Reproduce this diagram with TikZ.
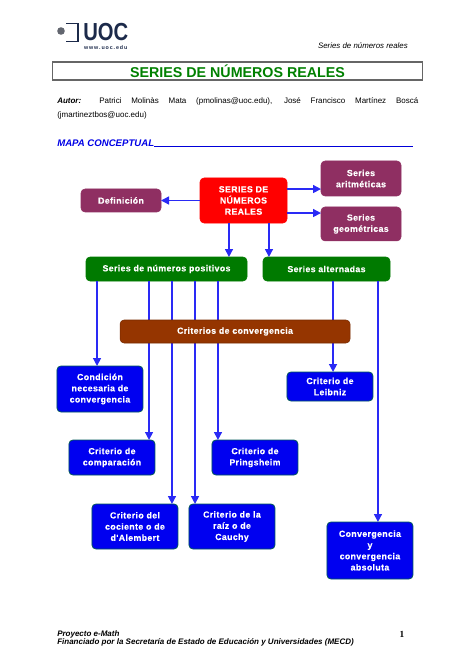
\documentclass[tikz,border=0pt]{standalone}
\usepackage{fontspec}
\setmainfont{Liberation Sans}
\newfontfamily\serifnum{Liberation Serif}
\newfontfamily\boxfont[LetterSpace=4,FakeBold=0.3]{Liberation Sans Bold}
\usepackage{xcolor}
\usepackage{tikz}
\usetikzlibrary{arrows.meta,positioning}
\definecolor{plumbox}{HTML}{8F2F62}
\definecolor{greenbox}{HTML}{007A00}
\definecolor{brownbox}{HTML}{953500}
\definecolor{bluebox}{HTML}{0000F0}
\definecolor{linkblue}{HTML}{2A2AF5}
\definecolor{navylogo}{HTML}{1C2A4A}

\begin{document}
\begin{tikzpicture}[
    x=0.75pt, y=-0.75pt,
    box/.style={rounded corners=3pt, align=center, inner sep=0pt, outer sep=0pt, text=white, font=\boxfont\fontsize{6.6pt}{8.4pt}\selectfont, minimum width=64.5pt},
    mainbox/.style={box, fill=red, draw=red, minimum width=65.25pt, minimum height=33.75pt},
    plumnode/.style={box, fill=plumbox, draw=plumbox, minimum width=60pt},
    seriesbox/.style={box, fill=greenbox, draw=greenbox, minimum height=18pt},
    critbox/.style={box, fill=bluebox, draw=teal!70!black, line width=0.6pt},
    arrow/.style={-{Triangle[length=6pt,width=6pt]}, line width=1.1pt, draw=linkblue}
]
\useasboundingbox (0,0) rectangle (474,670);

% page header
\draw[navylogo, line width=1.2pt] (66,23.5) -- (78,23.5) -- (78,41.5) -- (66,41.5);
\fill[gray!70!navylogo] (61,31) circle (3.8);
\node[anchor=west, inner sep=0pt, text=navylogo, font=\bfseries\fontsize{18.5pt}{18.5pt}\selectfont] (logo) at (83,32) {\scalebox{0.82}[1]{UOC}};
\node[below=3pt of logo, inner sep=0pt, text=navylogo, font=\bfseries\fontsize{4pt}{4pt}\selectfont] (web) {w\,w\,w\,.\,u\,o\,c\,.\,e\,d\,u};
\node[anchor=east, inner sep=0pt, font=\itshape\fontsize{5.9pt}{8pt}\selectfont] (header) at (408,46) {Series de números reales};

\node[draw=gray!80!black, line width=0.9pt, minimum width=278pt, minimum height=13.5pt, inner sep=0pt, text=green!50!black, font=\bfseries\fontsize{10.7pt}{12pt}\selectfont] (title) at (237.5,71) {SERIES DE NÚMEROS REALES};

\node[anchor=north west, inner sep=0pt, text width=270.75pt, align=justify, font=\fontsize{6pt}{10.5pt}\selectfont] (author) at (57,97) {\textbf{\textit{Autor:}} Patrici Molinàs Mata (pmolinas@uoc.edu), José Francisco Martínez Boscá \mbox{(jmartineztbos@uoc.edu)}};

\node[anchor=west, inner sep=0pt, text=blue!90!black, font=\bfseries\itshape\fontsize{7.2pt}{9pt}\selectfont] (mapa) at (57,143) {MAPA CONCEPTUAL};
\draw[blue!85!black, line width=0.8pt] (mapa.south east) -- ++(259,0) coordinate (mapaend);

% diagram
\node[mainbox] (series) at (243.5,200.5) {SERIES DE\\NÚMEROS\\REALES};
\node[plumnode, left=29.25pt of series, minimum height=17.25pt] (definicion) {Definición};
\node[plumnode, right=25.5pt of series.east, yshift=16.5pt, minimum height=26.25pt] (aritmeticas) {Series\\aritméticas};
\node[plumnode, right=25.5pt of series.east, yshift=-17.6pt, minimum height=25.5pt] (geometricas) {Series\\geométricas};

\node[seriesbox, below=25.5pt of series, xshift=-57.75pt, minimum width=120.75pt] (positivos) {Series de números positivos};
\node[seriesbox, right=12pt of positivos, minimum width=95.25pt] (alternadas) {Series alternadas};

\node[critbox, below=63.75pt of positivos, xshift=-49.9pt, minimum height=34.5pt] (condicion) {Condición\\necesaria de\\convergencia};
\node[critbox, below=21pt of condicion, xshift=9pt, minimum height=26.25pt] (comparacion) {Criterio de\\comparación};
\node[critbox, right=42.75pt of comparacion, minimum height=26.25pt] (pringsheim) {Criterio de\\Pringsheim};
\node[critbox, below=21.75pt of comparacion, xshift=17.25pt, minimum height=33.75pt] (cociente) {Criterio del\\cociente o de\\d'Alembert};
\node[critbox, right=8.25pt of cociente, minimum height=33.75pt] (cauchy) {Criterio de la\\raíz o de\\Cauchy};
\node[critbox, below=68.25pt of alternadas, xshift=2.6pt, minimum height=21.75pt] (leibniz) {Criterio de\\Leibniz};
\node[critbox, below=90.75pt of leibniz, xshift=30pt, minimum height=42.75pt] (absoluta) {Convergencia\\y\\convergencia\\absoluta};

\draw[arrow] (series.west) -- (definicion.east);
\draw[arrow] ([yshift=8.6pt]series.east) -- ([yshift=8.6pt]series.east -| aritmeticas.west);
\draw[arrow] ([yshift=-9.4pt]series.east) -- ([yshift=-9.4pt]series.east -| geometricas.west);
\draw[arrow] ([xshift=-10.9pt]series.south) coordinate (toppos) -- (toppos |- positivos.north);
\draw[arrow] ([xshift=19.1pt]series.south) coordinate (topalt) -- (topalt |- alternadas.north);

\foreach \dx/\target in {-52.1pt/condicion, -13.1pt/comparacion, 4.1pt/cociente, 21.4pt/cauchy, 38.6pt/pringsheim}
    \draw[arrow] ([xshift=\dx]positivos.south) coordinate (top) -- (top |- \target.north);
\foreach \dx/\target in {4.9pt/leibniz, 38.6pt/absoluta}
    \draw[arrow] ([xshift=\dx]alternadas.south) coordinate (top) -- (top |- \target.north);

\node[box, fill=brownbox, draw=brownbox!80!black, below=29.25pt of positivos, xshift=51.4pt, minimum width=172.5pt, minimum height=17.25pt] (criterios) {Criterios de convergencia};

% page footer
\node[anchor=base west, inner sep=0pt, font=\bfseries\itshape\fontsize{6pt}{7pt}\selectfont] (proyecto) at (57,636) {Proyecto e-Math};
\node[anchor=base west, inner sep=0pt, font=\bfseries\itshape\fontsize{6pt}{7pt}\selectfont] (footer) at (57,644.5) {Financiado por la Secretaría de Estado de Educación y Universidades (MECD)};
\node[inner sep=0pt, font=\serifnum\bfseries\fontsize{7pt}{8pt}\selectfont] (pagenum) at (402,634) {1};
\end{tikzpicture}
\end{document}
